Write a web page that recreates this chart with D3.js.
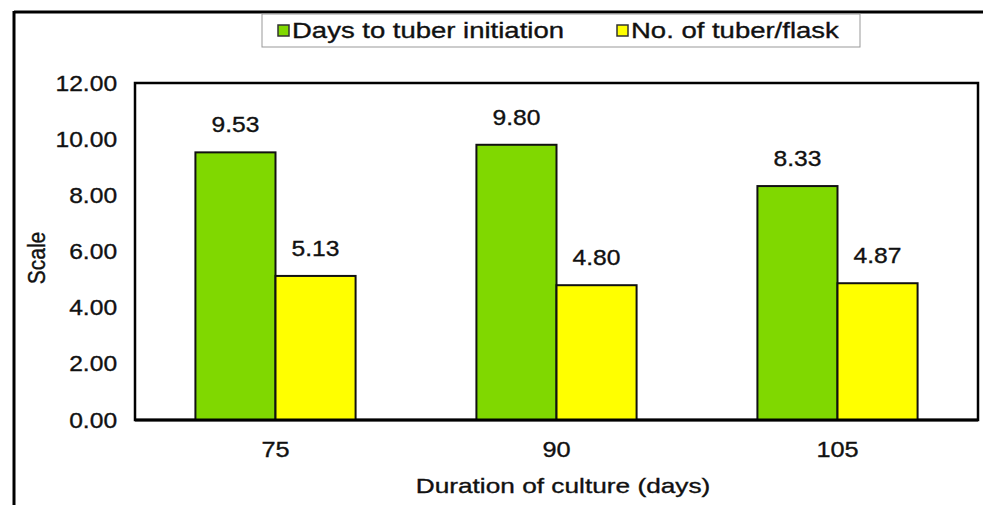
<!DOCTYPE html>
<html>
<head>
<meta charset="utf-8">
<script src="https://cdn.jsdelivr.net/npm/d3@7"></script>
<style>
  body { margin: 0; background: #fff; }
  svg { display: block; font-family: "Liberation Sans", Arial, sans-serif; }
  text { fill: #111; stroke: #111; stroke-width: 0.35px; }
</style>
</head>
<body>
<svg id="chart" width="983" height="505"></svg>
<script>
// chart data
var categories = ["75", "90", "105"];
var seriesNames = ["Days to tuber initiation", "No. of tuber/flask"];
var daysToTuber = [9.53, 9.80, 8.33];
var tubersPerFlask = [5.13, 4.80, 4.87];
var yTicks = [0, 2, 4, 6, 8, 10, 12];

var colors = ["#80d800", "#ffff00"];

var svg = d3.select("#chart");
var plot = {left: 135, right: 978, top: 83, bottom: 420};

var x = d3.scaleBand()
	.domain(categories)
	.range([plot.left, plot.right])
	.paddingInner(0.43)
	.paddingOuter(0.215);

var xs = d3.scaleBand()
	.domain(seriesNames)
	.range([0, x.bandwidth()]);

var y = d3.scaleLinear()
	.domain([0, 12])
	.range([plot.bottom, plot.top]);

// outer frame (top and left edges only, as in the source crop)
svg.append("line")
	.attr("x1", 14).attr("x2", 983).attr("y1", 12).attr("y2", 12)
	.attr("stroke", "#000").attr("stroke-width", 3);
svg.append("line")
	.attr("x1", 14).attr("x2", 14).attr("y1", 11).attr("y2", 505)
	.attr("stroke", "#000").attr("stroke-width", 3);

// legend
var legend = svg.append("g");
legend.append("rect")
	.attr("x", 262).attr("y", 14).attr("width", 598).attr("height", 33)
	.attr("fill", "#fff").attr("stroke", "#999").attr("stroke-width", 1);
var legendX = [278, 617];
seriesNames.forEach(function(name, i) {
	legend.append("rect")
		.attr("x", legendX[i]).attr("y", 25)
		.attr("width", 11).attr("height", 11)
		.attr("fill", colors[i]).attr("stroke", "#333").attr("stroke-width", 1.5);
	legend.append("text")
		.attr("transform", "translate(" + (legendX[i] + 14) + ",38) scale(1.25,1)")
		.style("font-size", "22px")
		.text(name);
});

// y axis labels
var yAxis = svg.append("g")
	.attr("transform", "translate(" + plot.left + ",0)")
	.call(d3.axisLeft(y).tickValues(yTicks).tickSize(0).tickFormat(d3.format(".2f")));
yAxis.select(".domain").remove();
yAxis.selectAll("text")
	.attr("x", -16)
	.attr("transform", "scale(1.12,1)")
	.style("font-size", "22px");

// x axis labels
var xAxis = svg.append("g")
	.attr("transform", "translate(0," + plot.bottom + ")")
	.call(d3.axisBottom(x).tickSize(0));
xAxis.select(".domain").remove();
xAxis.selectAll("text")
	.attr("y", 21)
	.attr("dy", "0.71em")
	.attr("transform", "scale(1.15,1)")
	.style("font-size", "22px");

// axis titles
svg.append("text")
	.attr("transform", "translate(563,493) scale(1.25,1)")
	.attr("text-anchor", "middle")
	.style("font-size", "21px")
	.text("Duration of culture (days)");

svg.append("text")
	.attr("transform", "translate(45,258) rotate(-90) scale(1,1.15)")
	.attr("text-anchor", "middle")
	.style("font-size", "21px")
	.text("Scale");

// plot box
svg.append("rect")
	.attr("x", plot.left).attr("y", plot.top)
	.attr("width", plot.right - plot.left).attr("height", plot.bottom - plot.top)
	.attr("fill", "#fff").attr("stroke", "#000").attr("stroke-width", 2.5);

// bars
var rows = categories.map(function(c, i) {
	return {cat: c, values: [daysToTuber[i], tubersPerFlask[i]]};
});

var groups = svg.selectAll("g.group")
	.data(rows)
	.enter().append("g")
	.attr("class", "group")
	.attr("transform", function(d) { return "translate(" + x(d.cat) + ",0)"; });

var bars = groups.selectAll("g.bar")
	.data(function(d) {
		return d.values.map(function(v, i) { return {name: seriesNames[i], value: v, i: i}; });
	})
	.enter().append("g")
	.attr("class", "bar");

bars.append("rect")
	.attr("x", function(d) { return xs(d.name); })
	.attr("y", function(d) { return y(d.value); })
	.attr("width", xs.bandwidth())
	.attr("height", function(d) { return y(0) - y(d.value); })
	.attr("fill", function(d) { return colors[d.i]; })
	.attr("stroke", "#111")
	.attr("stroke-width", 2);

bars.append("text")
	.attr("transform", function(d) {
		return "translate(" + (xs(d.name) + xs.bandwidth() / 2) + "," + (y(d.value) - 20) + ") scale(1.12,1)";
	})
	.attr("text-anchor", "middle")
	.style("font-size", "22px")
	.text(function(d) { return d3.format(".2f")(d.value); });

// redraw baseline on top of bar edges
svg.append("line")
	.attr("x1", plot.left).attr("x2", plot.right)
	.attr("y1", plot.bottom).attr("y2", plot.bottom)
	.attr("stroke", "#000").attr("stroke-width", 3);
</script>
</body>
</html>
